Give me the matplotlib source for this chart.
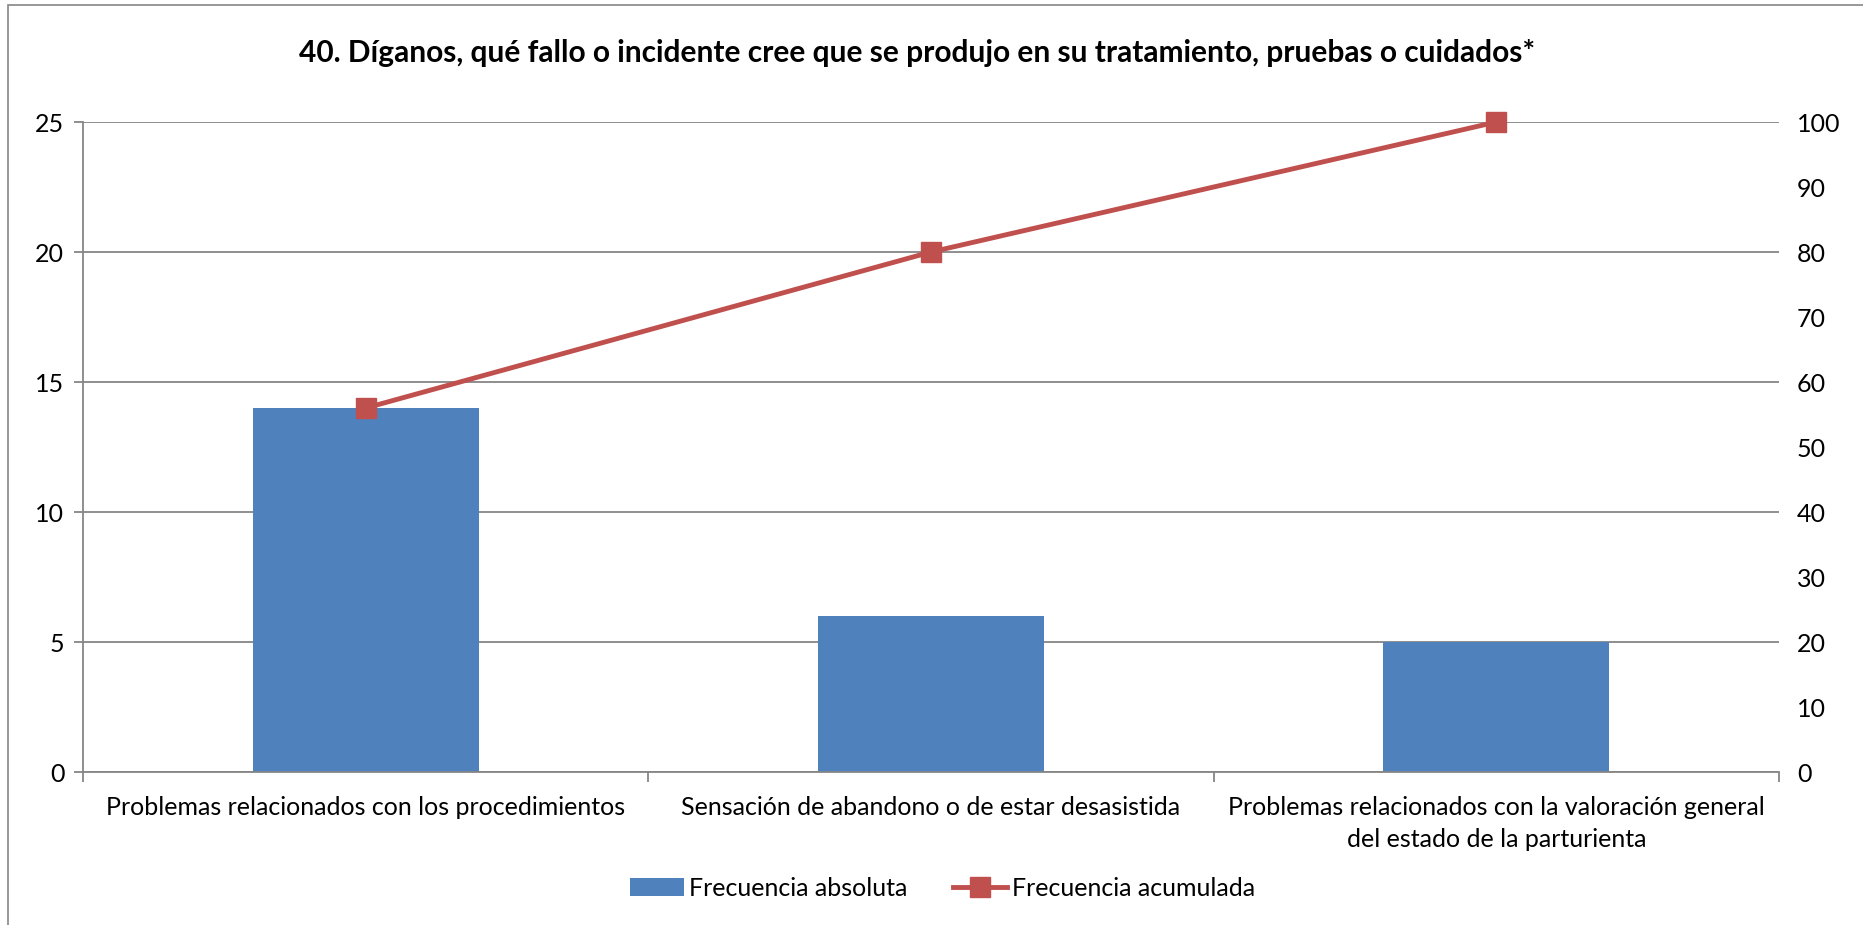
import matplotlib.pyplot as plt
from matplotlib.patches import Rectangle

# data
categories = [
    "Problemas relacionados con los procedimientos",
    "Sensación de abandono o de estar desasistida",
    "Problemas relacionados con la valoración general\ndel estado de la parturienta",
]
frec_absoluta = [14, 6, 5]
frec_acumulada = [56, 80, 100]
left_ticks = [0, 5, 10, 15, 20, 25]
right_ticks = [0, 10, 20, 30, 40, 50, 60, 70, 80, 90, 100]
title = "40. Díganos, qué fallo o incidente cree que se produjo en su tratamiento, pruebas o cuidados*"

BLUE = "#4F81BD"
RED = "#C0504D"
GRID = "#868686"
FONT = ["Lato", "DejaVu Sans"]
FS = 18

plt.rcParams["font.family"] = FONT

fig = plt.figure(figsize=(18.63, 9.25), dpi=100)
fig.patches.append(Rectangle((8 / 1863, -0.1), 1.2, 1.1 - 5 / 925, transform=fig.transFigure,
                             fill=False, edgecolor=GRID, linewidth=1.2))

ax = fig.add_axes([0.0446, 0.1654, 0.9103, 0.7027])
x = list(range(len(categories)))
bars = ax.bar(x, frec_absoluta, width=0.4, color=BLUE, zorder=2, label="Frecuencia absoluta")
ax.set_xlim(-0.5, len(categories) - 0.5)
ax.set_ylim(0, 25)
ax.set_yticks(left_ticks)
ax.yaxis.grid(True, color=GRID, linewidth=1.3, zorder=0)
ax.set_axisbelow(True)

ax.set_xticks(x)
ax.set_xticklabels(categories, fontsize=FS, linespacing=1.5)
ax.set_xticks([i - 0.5 for i in range(len(categories) + 1)], minor=True)
ax.tick_params(axis="x", which="major", length=0, pad=17)
ax.tick_params(axis="x", which="minor", length=7, color=GRID, width=1.3)
ax.tick_params(axis="y", length=6.5, color=GRID, width=1.3, labelsize=FS, pad=7)

for side in ["top", "right"]:
    ax.spines[side].set_visible(False)
for side in ["left", "bottom"]:
    ax.spines[side].set_color(GRID)
    ax.spines[side].set_linewidth(1.3)

ax2 = ax.twinx()
line, = ax2.plot(x, frec_acumulada, color=RED, linewidth=3.5, marker="s", markersize=14,
                 zorder=3, clip_on=False, label="Frecuencia acumulada")
ax2.set_ylim(0, 100)
ax2.set_yticks(right_ticks)
ax2.tick_params(axis="y", length=0, labelsize=FS, pad=13)
for side in ["top", "right", "left", "bottom"]:
    ax2.spines[side].set_visible(False)

fig.text(0.492, 0.943, title, ha="center", va="center", fontsize=21.5, fontweight="bold")

fig.legend([bars, line], ["Frecuencia absoluta", "Frecuencia acumulada"], loc="center",
           bbox_to_anchor=(0.506, 0.04), ncol=2, frameon=False, fontsize=FS,
           handlelength=2.15, handletextpad=0.22, columnspacing=1.8)

fig.savefig("out.png", dpi=100)
